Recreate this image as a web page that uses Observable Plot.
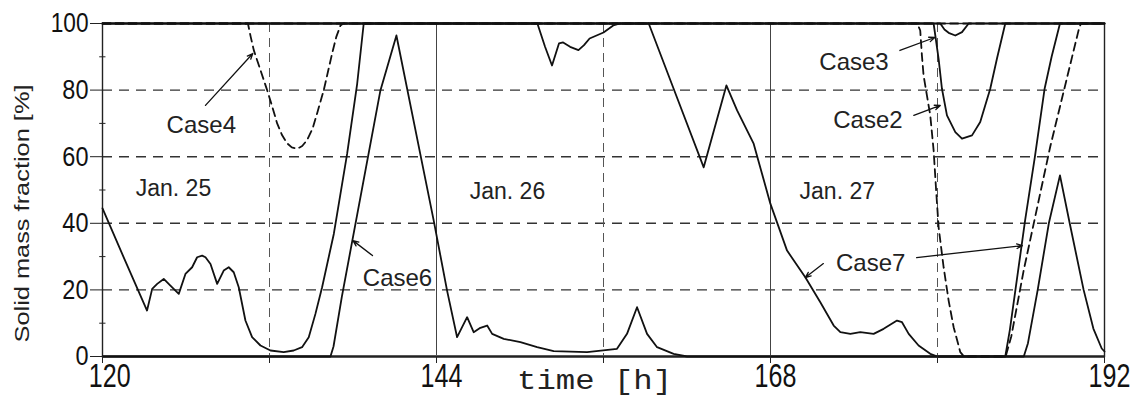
<!DOCTYPE html>
<html>
<head>
<meta charset="utf-8">
<script src="https://cdn.jsdelivr.net/npm/d3@7"></script>
<script src="https://cdn.jsdelivr.net/npm/@observablehq/plot@0.6"></script>
<style>
  html, body { margin: 0; padding: 0; background: #fff; }
  #chart svg { display: block; }
</style>
</head>
<body>
<div id="chart"></div>
<script>
// ---- data (time [h], solid mass fraction [%]) ----
const case7 = [[120,44.5],[121.5,30],[123.2,13.8],[123.57,20.3],[123.93,21.8],[124.4,23.3],[124.88,21.3],[125.48,18.8],[125.96,24.8],[126.44,26.8],[126.8,29.8],[127.16,30.3],[127.4,29.8],[127.76,27.8],[128.24,21.8],[128.71,25.8],[129.07,26.8],[129.43,25.3],[129.79,20.8],[130.27,10.8],[130.75,5.8],[131.35,3.3],[132.07,1.8],[133.02,1.3],[133.74,1.8],[134.34,2.8],[134.82,5.8],[135.3,12.8],[135.78,20.8],[136.62,36.8],[137.58,60.9],[138.3,81.9],[138.77,100],[151.25,100],[151.8,93],[152.3,87.4],[152.8,94],[153.1,94.3],[153.6,93],[154.2,92],[154.6,93.5],[155,95.5],[156,97.3],[156.7,99.4],[157.2,100],[159.25,100],[161.04,80.4],[163.2,56.8],[164.83,81.4],[165.6,73.9],[166.79,63.9],[167.99,45.9],[169.19,31.8],[170.5,23.8],[171.58,16.3],[172.54,9.3],[173.02,7.3],[173.74,6.8],[174.45,7.3],[175.41,6.8],[176.13,8.3],[177.09,10.8],[177.45,10.3],[177.93,6.8],[178.64,3.3],[179.48,0.8],[180,0],[184.87,0],[185.2,8],[185.6,20],[186.3,41],[187,60],[187.7,80.5],[188.2,90],[188.8,100],[192,100]];
const case6 = [[120,0],[136.38,0],[136.6,3],[137.2,18],[139.97,79.9],[141.12,96.4],[142.84,60.7],[143.8,40.8],[144.76,19.8],[145.48,5.8],[146.2,11.8],[146.67,7.3],[147.1,8.5],[147.64,9.3],[148,6.8],[148.83,5.3],[150.03,4.3],[151.23,2.8],[152.42,1.6],[154.82,1.3],[156.97,2.3],[157.69,6.8],[158.41,14.8],[159.13,6.8],[159.85,2.8],[161.04,0.8],[162,0],[186.2,0],[186.5,4],[187.2,20],[188,40],[188.8,54.4],[189.5,40],[190.5,20],[191.2,8.4],[191.8,2.4],[192,1.5]];
const case3 = [[120,100],[179.72,100],[180.08,89.4],[180.32,80.4],[180.68,72.4],[181.28,67.4],[181.76,65.4],[182.48,66.4],[183.07,70.4],[183.79,80.4],[184.27,89.4],[184.87,100],[192,100]];
const case5 = [[120,100],[180.2,100],[180.5,98.2],[180.8,97.2],[181.28,96.4],[181.76,97.4],[182.24,100],[192,100]];
const case4 = [[120,100],[130.45,100],[130.65,96],[130.87,92],[131.35,86],[131.83,80],[132.2,75],[132.55,70],[132.9,66.5],[133.27,64],[133.6,62.8],[134,62.4],[134.35,63.2],[134.7,65],[135.1,68.5],[135.42,73],[135.9,80],[136.2,85.5],[136.5,91],[136.8,96],[137.1,99.4],[137.3,100],[192,100]];
const case2 = [[120,100],[178.55,100],[178.76,97.9],[178.88,90.4],[179,84.4],[179.24,78.4],[179.48,72.4],[179.72,62],[179.9,50],[180.08,38.8],[180.44,26.8],[180.8,16.8],[181.16,8.8],[181.64,1.3],[181.9,0],[184.9,0],[185.3,6],[186.2,26],[188.1,63],[190.14,98],[190.3,100],[192,100]];

const solidCases = ["Case7", "Case6", "Case3", "Case5"];
const dashedCases = ["Case4", "Case2"];

const xLabelTicks = [120, 144, 168, 192];
const xMinorTicks = [120, 132, 144, 156, 168, 180, 192];
const yTicks = [0, 20, 40, 60, 80, 100];
const yMinorTicks = [10, 30, 50, 70, 90];
const hGrid = [20, 40, 60, 80];
const vGridSolid = [144, 168];
const vGridDashed = [132, 156, 180];

const dayText = ["Jan. 25", "Jan. 26", "Jan. 27"];
const dayT = [125.1, 149.1, 172.8];
const dayV = [50.3, 49.6, 49.6];

const caseText = ["Case4", "Case6", "Case3", "Case2", "Case7"];
const caseT = [127.1, 141.2, 174.0, 175.0, 175.2];
const caseV = [69.4, 23.4, 88.3, 70.9, 27.9];

const arrowT1 = [127.4, 139.4, 177.3, 178.3, 171.8, 178.5];
const arrowV1 = [75.4, 30.3, 91.9, 72.4, 27.9, 29.7];
const arrowT2 = [130.8, 138.0, 179.8, 180.2, 170.5, 186.1];
const arrowV2 = [91.0, 34.8, 95.8, 75.4, 23.7, 33.3];

const xTitle = "time [h]";
const yTitle = "Solid mass fraction [%]";

// ---- build tables ----
const allSeries = {Case7: case7, Case6: case6, Case3: case3, Case5: case5, Case4: case4, Case2: case2};
const toRows = names => names.flatMap(name => allSeries[name].map(([t, v]) => ({name, t, v})));
const solidRows = toRows(solidCases);
const dashedRows = toRows(dashedCases);
const days = dayText.map((label, i) => ({label, t: dayT[i], v: dayV[i]}));
const cases = caseText.map((label, i) => ({label, t: caseT[i], v: caseV[i]}));
const arrows = arrowT1.map((t1, i) => ({t1, v1: arrowV1[i], t2: arrowT2[i], v2: arrowV2[i]}));

const ink = "#111";
const chart = Plot.plot({
  width: 1136,
  height: 396,
  marginLeft: 102,
  marginRight: 32,
  marginTop: 23,
  marginBottom: 40,
  x: {domain: [120, 192]},
  y: {domain: [0, 100]},
  style: {background: "#fff", color: ink, fontFamily: "'Liberation Sans', Arial, sans-serif"},
  marks: [
    Plot.ruleY(hGrid, {stroke: "#333", strokeWidth: 1.4, strokeDasharray: "10,7"}),
    Plot.ruleX(vGridDashed, {stroke: "#555", strokeWidth: 1, strokeDasharray: "9,6"}),
    Plot.ruleX(vGridSolid, {stroke: "#444", strokeWidth: 1}),
    Plot.ruleY([0], {stroke: "#666", strokeWidth: 3}),
    Plot.frame({stroke: "#222", strokeWidth: 1.4}),
    Plot.ruleY(yMinorTicks, {x1: 119.8, x2: 120.25, stroke: "#222", strokeWidth: 1}),
    Plot.line(solidRows, {x: "t", y: "v", z: "name", stroke: ink, strokeWidth: 1.8}),
    Plot.line(dashedRows, {x: "t", y: "v", z: "name", stroke: ink, strokeWidth: 1.8, strokeDasharray: "8,5"}),
    Plot.arrow(arrows, {x1: "t1", y1: "v1", x2: "t2", y2: "v2", stroke: ink, strokeWidth: 1.3, headLength: 7, headAngle: 45}),
    Plot.text(days, {x: "t", y: "v", text: "label", fontSize: 23, fill: "#222"}),
    Plot.text(cases, {x: "t", y: "v", text: "label", fontSize: 24, fill: "#222"}),
    Plot.axisY({ticks: yTicks, tickSize: 12, tickPadding: 2, fontSize: 28, label: null, stroke: "#222"}),
    Plot.axisX({ticks: xMinorTicks, tickSize: 7, tickFormat: () => "", label: null, stroke: "#222"}),
    Plot.axisX({ticks: xLabelTicks, tickSize: 0, tickPadding: 7, fontSize: 33, label: null, dx: 5}),
    Plot.text([xTitle], {frameAnchor: "bottom", textAnchor: "middle", lineAnchor: "bottom", dx: -9, dy: 32, fontSize: 28, fontFamily: "'Liberation Mono', 'DejaVu Sans Mono', monospace", fill: "#222"}),
    Plot.text([yTitle], {frameAnchor: "left", textAnchor: "middle", lineAnchor: "middle", rotate: -90, dx: -80, dy: 23.5, fontSize: 21, fill: "#222"})
  ]
});

// condense tick digits horizontally (the reference uses tall, narrow numerals)
function condense(el, sx) {
  let tr = el.getAttribute("transform");
  if (!tr) {
    const x = +el.getAttribute("x") || 0, y = +el.getAttribute("y") || 0;
    el.removeAttribute("x"); el.removeAttribute("y");
    tr = `translate(${x},${y})`;
  }
  el.setAttribute("transform", `${tr} scale(${sx},1)`);
}
const sel = d3.select(chart);
sel.selectAll('g[aria-label="y-axis tick label"] text').each(function () {
  condense(this, this.textContent.length === 3 ? 0.81 : 0.84);
});
sel.selectAll('g[aria-label="x-axis tick label"] text').each(function () {
  const s = this.textContent;
  if (!s) return;
  condense(this, 0.76);
  if (s === "120") this.setAttribute("dx", 3);
});
sel.selectAll("text").each(function () {
  if (this.textContent === xTitle) { this.setAttribute("textLength", 155); this.setAttribute("lengthAdjust", "spacingAndGlyphs"); }
  if (this.textContent === yTitle) { this.setAttribute("textLength", 258); this.setAttribute("lengthAdjust", "spacingAndGlyphs"); }
});

document.getElementById("chart").appendChild(chart);
</script>
</body>
</html>
